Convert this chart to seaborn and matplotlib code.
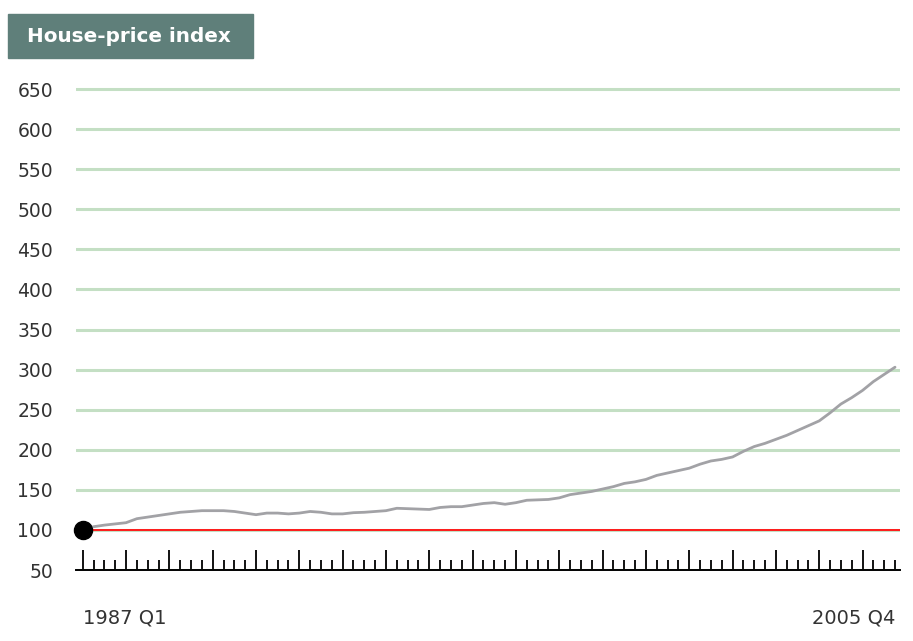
import numpy as np
import pandas as pd
import seaborn as sns
import matplotlib.pyplot as plt
from matplotlib.patches import Rectangle
from matplotlib.ticker import MultipleLocator
import matplotlib.transforms as mtransforms

# quarterly index, 1987 Q1 = 100
index_values = [
    100, 104, 106, 107.5, 109, 114, 116, 118, 120, 122, 123, 124,
    124, 124, 123, 121, 119, 121, 121, 120, 121, 123, 122, 120,
    120, 121.5, 122, 123, 124, 127, 126.5, 126, 125.5, 128, 129, 129,
    131, 133, 134, 132, 134, 137, 137.5, 138, 140, 144, 146, 148,
    151, 154, 158, 160, 163, 168, 171, 174, 177, 182, 186, 188,
    191, 198, 204, 208, 213, 218, 224, 230, 236, 246, 257, 265,
    274, 285, 294, 303,
]
first_label = "1987 Q1"
last_label = "2005 Q4"
y_ticks = [50, 100, 150, 200, 250, 300, 350, 400, 450, 500, 550, 600, 650]
base_value = 100
title = "House-price index"

df = pd.DataFrame({"quarter": np.arange(len(index_values)), "index": index_values})

sns.set_style("white")
plt.rcParams["font.family"] = ["DejaVu Sans"]
plt.rcParams["xtick.bottom"] = True

fig = plt.figure(figsize=(9.13, 6.41), dpi=100)
W, H = 913, 641
ax = fig.add_axes([76 / W, 1 - 570 / H, (900 - 76) / W, (570 - 85) / H])

sns.lineplot(data=df, x="quarter", y="index", ax=ax, color="#a2a2a6", lw=2.0, zorder=3)
ax.set_ylim(50, 655)
ax.set_xlim(-0.62, 75.46)

ax.hlines(base_value, df["quarter"].iloc[0], ax.get_xlim()[1], color="#ff1a1a", lw=1.4, zorder=2)
ax.plot(df["quarter"].iloc[0], df["index"].iloc[0], "o", color="black", ms=13, zorder=4, clip_on=False)

# gridlines
ax.set_yticks(y_ticks)
ax.set_yticklabels([str(v) for v in y_ticks], fontfamily="DejaVu Sans")
ax.yaxis.grid(True, color="#c4dfc4", lw=2.2)
ax.set_axisbelow(True)
ax.tick_params(axis="y", length=0, pad=16.5, labelsize=13.5, labelcolor="#333333")

# quarter ticks on the base line
ax.xaxis.set_major_locator(MultipleLocator(4))
ax.xaxis.set_minor_locator(MultipleLocator(1))
ax.tick_params(axis="x", which="both", bottom=True, direction="in", color="black",
               labelbottom=False, width=1.3)
ax.tick_params(axis="x", which="major", length=14.5)
ax.tick_params(axis="x", which="minor", length=7.2)
ax.set_xlim(-0.62, 75.46)

for s in ["top", "right", "left"]:
    ax.spines[s].set_visible(False)
ax.spines["bottom"].set_color("black")
ax.spines["bottom"].set_linewidth(1.4)
ax.set_xlabel("")
ax.set_ylabel("")

trans = mtransforms.blended_transform_factory(ax.transData, ax.transAxes)
ax.text(0, -0.1, first_label, transform=trans, ha="left", va="center", fontsize=14,
        color="#333333", fontfamily="DejaVu Sans")
ax.text(len(index_values) - 1, -0.1, last_label, transform=trans, ha="right", va="center",
        fontsize=14, color="#333333", fontfamily="DejaVu Sans")

# title tab
fig.patches.append(Rectangle((8 / W, 1 - 58 / H), (253 - 8) / W, (58 - 14) / H,
                             transform=fig.transFigure, color="#5f7f7a", zorder=0))
fig.text(27 / W, 1 - 36 / H, title, ha="left", va="center", fontsize=14.4,
         fontweight="bold", color="white", fontfamily="DejaVu Sans")

fig.savefig("out.png", dpi=100)
